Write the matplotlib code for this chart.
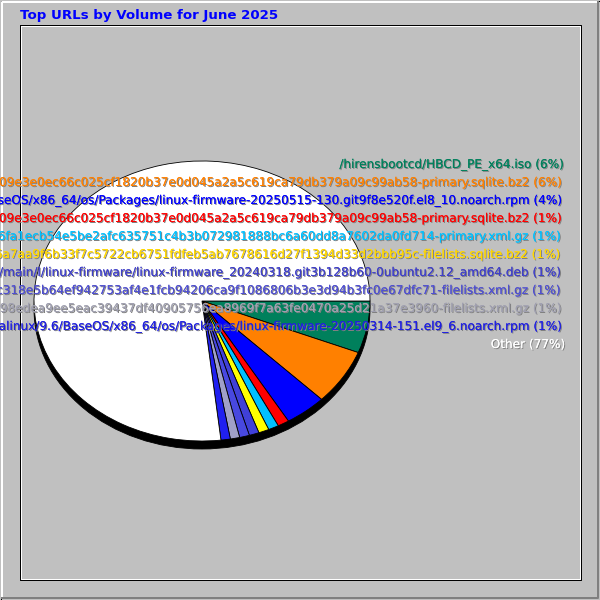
import matplotlib
matplotlib.use("Agg")
import matplotlib.pyplot as plt
import matplotlib.patheffects as pe
from matplotlib.patches import Rectangle, Ellipse

# data
title = "Top URLs by Volume for June 2025"
urls = [
  "/hirensbootcd/HBCD_PE_x64.iso",
  "/almalinux/8.10/BaseOS/x86_64/os/repodata/5b1e7c2d09e3e0ec66c025cf1820b37e0d045a2a5c619ca79db379a09c99ab58-primary.sqlite.bz2",
  "/almalinux/8.10/BaseOS/x86_64/os/Packages/linux-firmware-20250515-130.git9f8e520f.el8_10.noarch.rpm",
  "/almalinux/8/BaseOS/x86_64/os/repodata/5b1e7c2d09e3e0ec66c025cf1820b37e0d045a2a5c619ca79db379a09c99ab58-primary.sqlite.bz2",
  "/almalinux/9.6/AppStream/x86_64/os/repodata/2d4c86fa1ecb54e5be2afc635751c4b3b072981888bc6a60dd8a7602da0fd714-primary.xml.gz",
  "/almalinux/9.6/BaseOS/x86_64/os/repodata/1e03b96a7aa9f6b33f7c5722cb6751fdfeb5ab7678616d27f1394d33d2bbb95c-filelists.sqlite.bz2",
  "/ubuntu/pool/main/l/linux-firmware/linux-firmware_20240318.git3b128b60-0ubuntu2.12_amd64.deb",
  "/almalinux/9.6/AppStream/x86_64/os/repodata/a7fc318e5b64ef942753af4e1fcb94206ca9f1086806b3e3d94b3fc0e67dfc71-filelists.xml.gz",
  "/almalinux/9.6/BaseOS/x86_64/os/repodata/4c2f398edea9ee5eac39437df40905756ea8969f7a63fe0470a25d21a37e3960-filelists.xml.gz",
  "/almalinux/9.6/BaseOS/x86_64/os/Packages/linux-firmware-20250314-151.el9_6.noarch.rpm",
  "Other",
]
pct_labels = [6, 6, 4, 1, 1, 1, 1, 1, 1, 1, 77]
shares = [6.0, 6.4, 4.0, 1.1, 1.0, 1.0, 0.95, 0.95, 0.9, 0.9, 76.8]
colors = ["#00805C", "#FF8000", "#0000FF", "#FF0000", "#00C0FF", "#FFFF00",
          "#4040D8", "#4848E0", "#A0A0C8", "#2020F0", "#FFFFFF"]
text_colors = ["#00805C", "#FF8000", "#0000FF", "#FF0000", "#00C0FF", "#FFD700",
               "#4040C8", "#5050D0", "#A0A0B0", "#2020E0", "#FFFFFF"]

W, H = 600, 600
fig = plt.figure(figsize=(6, 6), dpi=100, facecolor="#C0C0C0")
bg = fig.add_axes([0, 0, 1, 1])
bg.set_xlim(0, W)
bg.set_ylim(H, 0)
bg.set_axis_off()
bg.set_zorder(0)

# outer raised frame
bg.add_patch(Rectangle((0, 0), W, H, facecolor="#C0C0C0", edgecolor="none"))
bg.plot([0.5, 0.5, W - 0.5, W - 0.5, 0.5], [0.5, H - 0.5, H - 0.5, 0.5, 0.5], color="black", lw=0.72)
bg.plot([2, 2, W - 3], [H - 3, 2, 2], color="white", lw=1.44)
bg.plot([2, W - 2, W - 2], [H - 2, H - 2, 2], color="#808080", lw=1.44)

# inner frame
bg.plot([19.5, 580.5, 580.5, 19.5, 19.5], [24.5, 24.5, 579.5, 579.5, 24.5], color="black", lw=0.72)
bg.plot([20.5, 579.5, 579.5, 20.5, 20.5], [25.5, 25.5, 578.5, 578.5, 25.5], color="white", lw=0.72)

bg.text(20, 19, title, color="#0000FF", fontsize=9.6, fontweight="bold",
        ha="left", va="baseline", family="DejaVu Sans")

# pie (elliptical)
cx, cy, rx, ry = 202, 301, 168, 140
depth = 8
pad = 0.2
ax = fig.add_axes([(cx - rx * (1 + pad)) / W, (H - cy - ry * (1 + pad)) / H,
                   2 * rx * (1 + pad) / W, 2 * ry * (1 + pad) / H])
ax.set_zorder(1)
ax.add_patch(Ellipse((0, -depth / ry), 2, 2, facecolor="black", edgecolor="black", lw=0.6, zorder=0))
ax.pie(shares, colors=colors, startangle=0, counterclock=False, radius=1,
       wedgeprops=dict(edgecolor="black", linewidth=0.6))
ax.set_aspect("auto")
ax.set_xlim(-1 - pad, 1 + pad)
ax.set_ylim(-1 - pad, 1 + pad)
ax.set_axis_off()

# legend labels on the right, drawn over everything
top = fig.add_axes([0, 0, 1, 1])
top.set_xlim(0, W)
top.set_ylim(H, 0)
top.set_axis_off()
top.patch.set_visible(False)
top.set_zorder(2)
shadow = [pe.withSimplePatchShadow(offset=(0.72, -0.72), shadow_rgbFace="#808080", alpha=1.0), pe.Normal()]
for i, (u, p, c) in enumerate(zip(urls, pct_labels, text_colors)):
  top.text(565, 168 + i * 18, f"{u} ({p}%)", color=c, fontsize=8.7, ha="right",
           va="baseline", family="DejaVu Sans", path_effects=shadow, clip_on=False)

fig.savefig("out.png", dpi=100, facecolor=fig.get_facecolor())
